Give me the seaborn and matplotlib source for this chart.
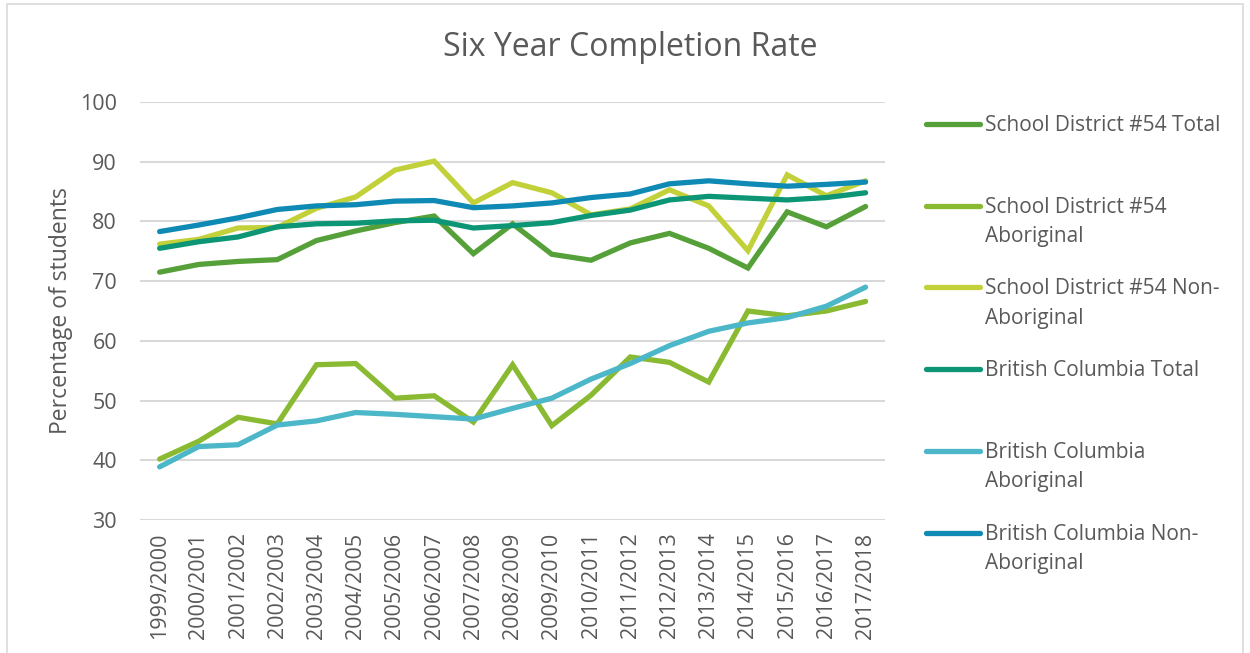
import matplotlib
matplotlib.use("Agg")
import matplotlib.pyplot as plt
from matplotlib.lines import Line2D
from matplotlib.patches import Rectangle
import pandas as pd
import seaborn as sns

# Data
years = ["1999/2000", "2000/2001", "2001/2002", "2002/2003", "2003/2004",
         "2004/2005", "2005/2006", "2006/2007", "2007/2008", "2008/2009",
         "2009/2010", "2010/2011", "2011/2012", "2012/2013", "2013/2014",
         "2014/2015", "2015/2016", "2016/2017", "2017/2018"]

sd_total = [71.5, 72.8, 73.3, 73.6, 76.8, 78.4, 79.8, 80.9, 74.6, 79.6,
            74.5, 73.5, 76.4, 78.0, 75.5, 72.2, 81.6, 79.1, 82.5]
sd_abor = [40.2, 43.2, 47.2, 46.1, 56.0, 56.2, 50.4, 50.8, 46.4, 56.0,
           45.8, 50.9, 57.3, 56.4, 53.1, 65.0, 64.2, 65.0, 66.6]
sd_nonab = [76.2, 77.0, 78.9, 79.0, 82.2, 84.1, 88.6, 90.1, 83.1, 86.5,
            84.8, 81.1, 82.1, 85.3, 82.6, 75.1, 87.8, 84.3, 86.8]
bc_total = [75.5, 76.6, 77.4, 79.1, 79.6, 79.7, 80.1, 80.2, 78.9, 79.3,
            79.8, 81.0, 81.9, 83.6, 84.2, 83.9, 83.6, 84.0, 84.8]
bc_abor = [38.9, 42.3, 42.6, 45.9, 46.6, 48.0, 47.7, 47.3, 46.9, 48.7,
           50.4, 53.6, 56.2, 59.2, 61.6, 63.0, 63.9, 65.8, 69.0]
bc_nonab = [78.3, 79.4, 80.6, 82.0, 82.6, 82.8, 83.4, 83.5, 82.3, 82.6,
            83.1, 84.0, 84.6, 86.3, 86.8, 86.3, 85.9, 86.2, 86.6]

series = ["School District #54 Total", "School District #54\nAboriginal",
          "School District #54 Non-\nAboriginal", "British Columbia Total",
          "British Columbia\nAboriginal", "British Columbia Non-\nAboriginal"]
values = [sd_total, sd_abor, sd_nonab, bc_total, bc_abor, bc_nonab]
colors = ["#56a03a", "#8aba32", "#c2d13a", "#0c9675", "#4bb7c8", "#0e8ab5"]

rows = []
for name, vals in zip(series, values):
    for i, v in enumerate(vals):
        rows.append({"series": name, "x": i, "value": v})
df = pd.DataFrame(rows)

sns.set_style("white")
plt.rcParams["font.family"] = ["Open Sans", "DejaVu Sans"]
text_col = "#595959"

fig = plt.figure(figsize=(12.5, 6.53), dpi=100)
W, H = 1250, 653
ax = fig.add_axes([140 / W, 1 - 520 / H, (884.6 - 139.4) / W, (520 - 102) / H])

sns.lineplot(data=df, x="x", y="value", hue="series", hue_order=series,
             palette=colors, linewidth=3.8, ax=ax, legend=False,
             solid_capstyle="round", solid_joinstyle="miter")

ax.set_xlim(-0.5, len(years) - 0.5)
ax.set_ylim(30, 100)
ax.set_yticks(range(30, 101, 10))
ax.set_xticks(range(len(years)))
ax.set_xticklabels(years, rotation=90, fontsize=15.5, color=text_col)
ax.tick_params(axis="y", labelsize=15.5, colors=text_col, length=0, pad=16.5)
ax.tick_params(axis="x", length=0, pad=9)
ax.grid(axis="y", color="#d9d9d9", linewidth=1.5)
ax.set_axisbelow(True)
for s in ax.spines.values():
    s.set_visible(False)
ax.set_xlabel("")
ax.set_ylabel("Percentage of students", fontsize=16.5, color=text_col)
ax.yaxis.set_label_coords(-0.09, 0.5)

fig.text(630 / W, 1 - 47 / H, "Six Year Completion Rate", ha="center",
         va="center", fontsize=23, color=text_col)

# legend drawn Excel-style: handle aligned with the first text line
y0, step, lh = 124, 81.7, 29.5
for k, (name, c) in enumerate(zip(series, colors)):
    yp = y0 + k * step
    fig.add_artist(Line2D([926 / W, 980 / W], [1 - yp / H, 1 - yp / H],
                          color=c, linewidth=3.8, solid_capstyle="round"))
    for j, part in enumerate(name.split("\n")):
        fig.text(985 / W, 1 - (yp + 1.5 + j * lh) / H, part, ha="left",
                 va="center", fontsize=15, color=text_col)

# chart frame
fig.add_artist(Rectangle((7 / W, -0.01), (1243 - 7) / W, 1 - 4 / H + 0.01,
                         transform=fig.transFigure, fill=False,
                         edgecolor="#d9d9d9", linewidth=1.2))

fig.savefig("out.png", dpi=100)
